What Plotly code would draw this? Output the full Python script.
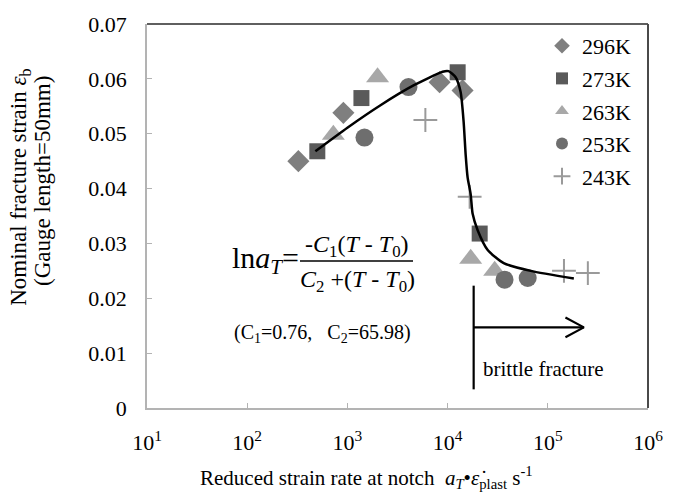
import plotly.graph_objects as go

# ---------------- data ----------------
x_296 = [324, 912, 8320, 14100]
y_296 = [0.0450, 0.0538, 0.0594, 0.0579]

x_273 = [501, 1380, 12600, 20900]
y_273 = [0.0468, 0.0565, 0.0612, 0.0318]

x_263 = [724, 2000, 17000, 29500]
y_263 = [0.0498, 0.0603, 0.0272, 0.0250]

x_253 = [1480, 4070, 37000, 63000]
y_253 = [0.0493, 0.0585, 0.0234, 0.0237]

x_243 = [6000, 16600, 145000, 251000]
y_243 = [0.0525, 0.0385, 0.0250, 0.0246]

curve_x = [479, 1000, 2140, 4570, 8910, 10230, 12020, 13490, 14450, 15140,
           15850, 16980, 17780, 19950, 25120, 36310, 67610, 181970]
curve_y = [0.0468, 0.0511, 0.0552, 0.0588, 0.0613, 0.0614, 0.0603, 0.0576,
           0.0522, 0.0462, 0.0420, 0.0390, 0.0354, 0.0324, 0.0288, 0.0264,
           0.0250, 0.0236]

brittle_x = [18200, 18200]
brittle_y = [0.0034, 0.0223]
arrow_x = [18200, 229000]
arrow_y = [0.0147, 0.0147]
head_x = [150000, 229000, 150000]
head_y = [0.0165, 0.0147, 0.0129]

xtick_vals = [10, 100, 1000, 10000, 100000, 1000000]
xtick_text = ["10<sup>1</sup>", "10<sup>2</sup>", "10<sup>3</sup>",
              "10<sup>4</sup>", "10<sup>5</sup>", "10<sup>6</sup>"]
ytick_vals = [0, 0.01, 0.02, 0.03, 0.04, 0.05, 0.06, 0.07]
ytick_text = ["0", "0.01", "0.02", "0.03", "0.04", "0.05", "0.06", "0.07"]

FONT = "Liberation Serif, Times New Roman, serif"
W, H = 678, 501
L, R, T, B = 147, 30, 19, 93
PW, PH = W - L - R, H - T - B


def px(xp):
    return (xp - L) / PW


def py(yp):
    return (H - B - yp) / PH


fig = go.Figure()

series = [
    ("296K", x_296, y_296, "diamond", 17, "#7f7f7f"),
    ("273K", x_273, y_273, "square", 16, "#5a5a5a"),
    ("263K", x_263, y_263, "triangle-up", 20, "#a8a8a8"),
    ("253K", x_253, y_253, "circle", 18, "#6e6e6e"),
]
for name, xs, ys, sym, sz, col in series:
    fig.add_trace(go.Scatter(
        x=xs, y=ys, mode="markers", name=name, legendgroup=name,
        marker=dict(symbol=sym, size=sz, color=col, line=dict(width=0)),
    ))
fig.add_trace(go.Scatter(
    x=x_243, y=y_243, mode="markers", name="243K", legendgroup="243K",
    marker=dict(symbol="cross-thin", size=17, color="#9a9a9a",
                line=dict(width=2, color="#9a9a9a")),
))

fig.add_trace(go.Scatter(x=curve_x, y=curve_y, mode="lines",
                         line=dict(color="black", width=2.5, shape="spline", smoothing=0.6),
                         showlegend=False, hoverinfo="skip"))
for xs, ys in [(brittle_x, brittle_y), (arrow_x, arrow_y), (head_x, head_y)]:
    fig.add_trace(go.Scatter(x=xs, y=ys, mode="lines",
                             line=dict(color="black", width=2.2),
                             showlegend=False, hoverinfo="skip"))

fig.update_xaxes(type="log", range=[1, 6], tickvals=xtick_vals, ticktext=xtick_text,
                 showgrid=False, zeroline=False, showline=True, linecolor="#b3b3b3",
                 linewidth=1.5, ticks="inside", ticklen=5, tickcolor="#b3b3b3",
                 tickfont=dict(family=FONT, size=22, color="black"),
                 ticklabelstandoff=14)
fig.update_yaxes(range=[0, 0.07], tickvals=ytick_vals, ticktext=ytick_text,
                 showgrid=False, zeroline=False, showline=True, linecolor="#b3b3b3",
                 linewidth=1.5, ticks="inside", ticklen=5, tickcolor="#b3b3b3",
                 tickfont=dict(family=FONT, size=22, color="black"),
                 ticklabelstandoff=14)

shapes = [
    dict(type="line", xref="paper", yref="paper", x0=0, x1=1, y0=1, y1=1,
         line=dict(color="#5f5f5f", width=2)),
    dict(type="line", xref="paper", yref="paper", x0=1, x1=1, y0=0, y1=1,
         line=dict(color="#4a4a4a", width=2)),
    dict(type="line", xref="paper", yref="paper", x0=px(300), x1=px(413),
         y0=py(259), y1=py(259), line=dict(color="black", width=1.5)),
]

ann = []


def add_text(text, xp, yp, size, xanchor="center", angle=0):
    ann.append(dict(text=text, xref="paper", yref="paper", x=px(xp), y=py(yp),
                    xanchor=xanchor, yanchor="middle", showarrow=False,
                    textangle=angle, font=dict(family=FONT, size=size, color="black")))


add_text("ln<i>a</i><sub><i>T</i></sub>=", 301, 258, 30, xanchor="right")
add_text("-<i>C</i><sub>1</sub>(<i>T</i> - <i>T</i><sub>0</sub>)", 357, 244, 24)
add_text("<i>C</i><sub>2</sub> +(<i>T</i> - <i>T</i><sub>0</sub>)", 357, 279, 24)
add_text("(C<sub>1</sub>=0.76,\u00a0\u00a0 C<sub>2</sub>=65.98)", 322, 333, 20)
add_text("brittle fracture", 481, 368, 21, xanchor="left")
add_text("Reduced strain rate at notch\u00a0 <i>a<sub>T</sub></i>\u2022<i>\u03b5\u0307</i><sub>plast</sub> s<sup>-1</sup>",
         366, 478, 21)
add_text("Nominal fracture strain <i>\u03b5</i><sub>b</sub>", 20, 185, 23, angle=-90)
add_text("(Gauge length=50mm)", 43, 178, 23, angle=-90)

fig.update_layout(
    width=W, height=H,
    margin=dict(l=L, r=R, t=T, b=B),
    plot_bgcolor="white", paper_bgcolor="white",
    font=dict(family=FONT, color="black"),
    shapes=shapes, annotations=ann,
    legend=dict(x=px(542), y=py(20), xanchor="left", yanchor="top",
                font=dict(family=FONT, size=22, color="black"),
                bgcolor="rgba(0,0,0,0)", itemsizing="constant",
                tracegroupgap=1, itemwidth=30),
)

fig.write_html("out.html")
